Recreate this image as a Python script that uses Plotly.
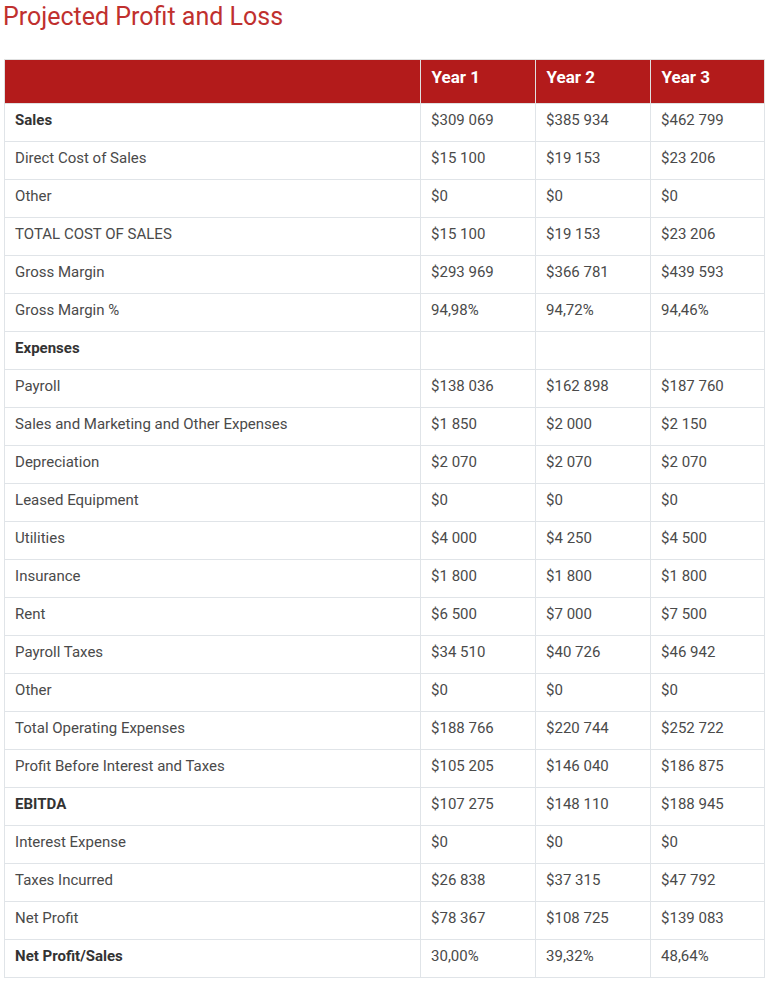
import plotly.graph_objects as go

# Row labels of the P&L table
labels = [
    "Sales", "Direct Cost of Sales", "Other", "TOTAL COST OF SALES",
    "Gross Margin", "Gross Margin %", "Expenses", "Payroll",
    "Sales and Marketing and Other Expenses", "Depreciation",
    "Leased Equipment", "Utilities", "Insurance", "Rent", "Payroll Taxes",
    "Other", "Total Operating Expenses", "Profit Before Interest and Taxes",
    "EBITDA", "Interest Expense", "Taxes Incurred", "Net Profit",
    "Net Profit/Sales",
]
bold_rows = {"Sales", "Expenses", "EBITDA", "Net Profit/Sales"}
pct_rows = {"Gross Margin %", "Net Profit/Sales"}

years = ["Year 1", "Year 2", "Year 3"]
year1 = [309069, 15100, 0, 15100, 293969, 94.98, None, 138036, 1850, 2070, 0,
         4000, 1800, 6500, 34510, 0, 188766, 105205, 107275, 0, 26838, 78367, 30.00]
year2 = [385934, 19153, 0, 19153, 366781, 94.72, None, 162898, 2000, 2070, 0,
         4250, 1800, 7000, 40726, 0, 220744, 146040, 148110, 0, 37315, 108725, 39.32]
year3 = [462799, 23206, 0, 23206, 439593, 94.46, None, 187760, 2150, 2070, 0,
         4500, 1800, 7500, 46942, 0, 252722, 186875, 188945, 0, 47792, 139083, 48.64]

PAD = "\u2009"  # thin space, nudges text right a little


def fmt(label, v):
    if v is None:
        return ""
    if label in pct_rows:
        s = f"{v:.2f}%".replace(".", ",")
    else:
        s = "$" + f"{v:,.0f}".replace(",", " ")
    # wrapping in a span keeps all cells on the same baseline as the bold labels
    return f"<span>{PAD}{s}</span>"


col0 = [f"<span>{PAD}<b style='color:#333'>{l}</b></span>" if l in bold_rows
        else f"<span>{PAD}{l}</span>" for l in labels]
cols = [col0] + [[fmt(l, v) for l, v in zip(labels, ys)] for ys in (year1, year2, year3)]

W, H = 768, 983
RED = "#b31b1b"
LINE = "#e0e4e8"

fig = go.Figure(go.Table(
    domain=dict(x=[4 / W, 764 / W], y=[0, 1 - 59 / H]),
    columnwidth=[416, 115, 115, 114],
    header=dict(
        values=[""] + [f"<span>{PAD}<b>{y}</b></span>" for y in years],
        fill_color=RED,
        line=dict(color="#e0e0e0", width=1),
        font=dict(family="Roboto", size=17, color="white"),
        align="left",
        height=44,
    ),
    cells=dict(
        values=cols,
        fill_color="white",
        line=dict(color=LINE, width=1),
        font=dict(family="Roboto", size=15, color="#4a4a4a"),
        align="left",
        height=38,
    ),
))

fig.add_annotation(
    x=1 / W, y=1 - 17 / H, xref="paper", yref="paper",
    text="Projected Profit and Loss", showarrow=False,
    xanchor="left", yanchor="middle",
    font=dict(family="Roboto", size=25, color="#c0302e"),
)

fig.update_layout(
    width=W, height=H,
    margin=dict(l=0, r=0, t=0, b=0),
    paper_bgcolor="white", plot_bgcolor="white",
)

fig.write_html("out.html", config={"displayModeBar": False},
               post_script="document.body.style.margin='0';")
